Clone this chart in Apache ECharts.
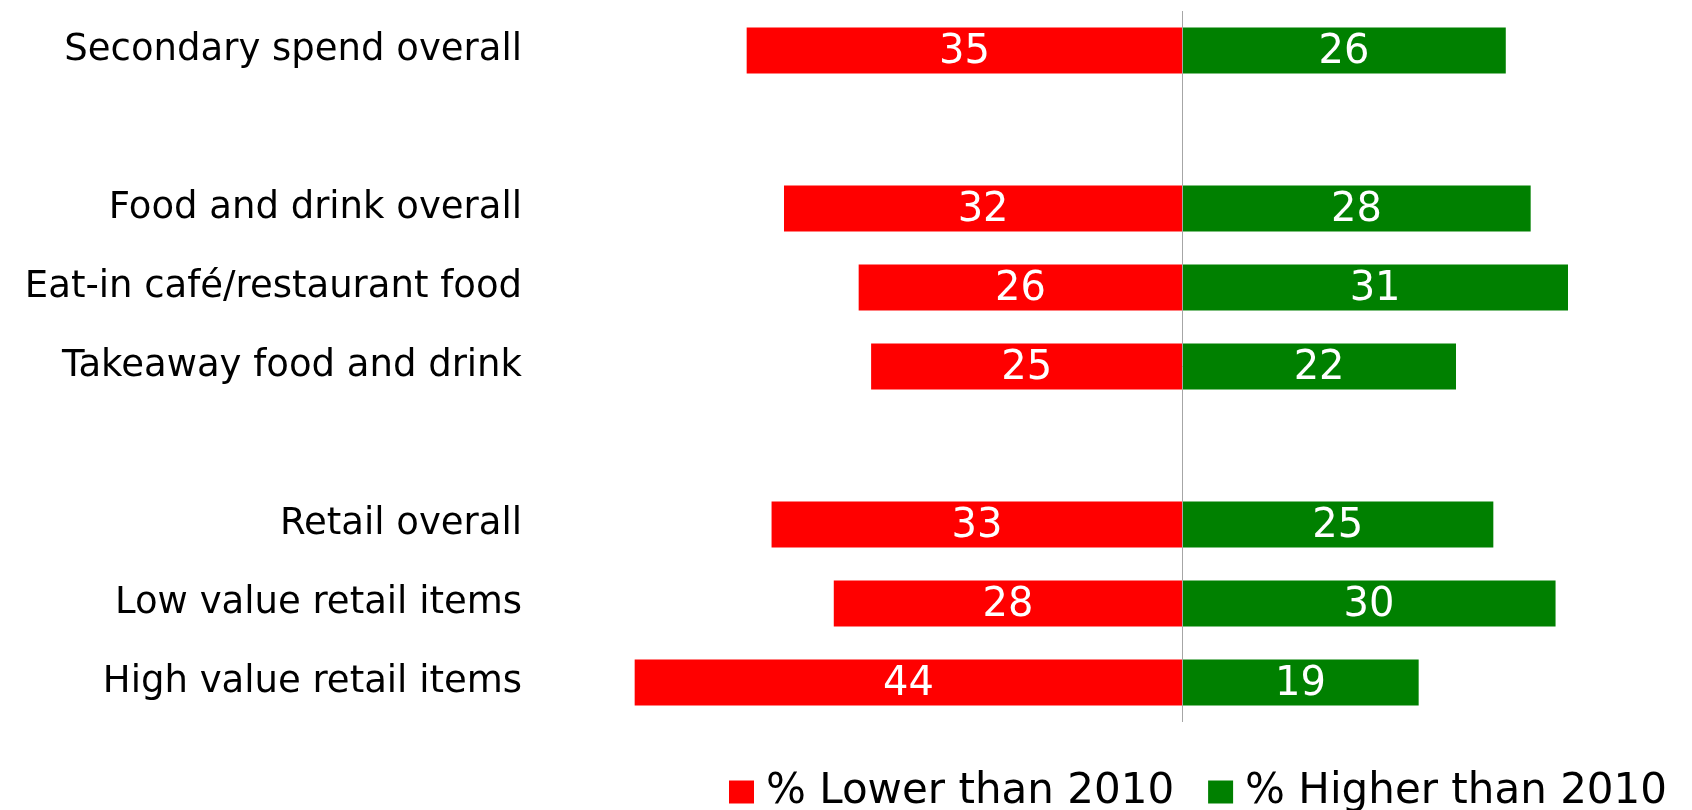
<!DOCTYPE html>
<html>
<head>
<meta charset="utf-8">
<style>
  html, body { margin: 0; padding: 0; background: #ffffff; }
  #chart { width: 1692px; height: 810px; }
</style>
<script src="https://cdn.jsdelivr.net/npm/echarts@6/dist/echarts.min.js"></script>
</head>
<body>
<div id="chart"></div>
<script>
// Spending groups; empty entries leave a gap between the sections
const categories = [
  'Secondary spend overall',
  '',
  'Food and drink overall',
  'Eat-in café/restaurant food',
  'Takeaway food and drink',
  '',
  'Retail overall',
  'Low value retail items',
  'High value retail items'
];
const lowerThan2010 = [35, null, 32, 26, 25, null, 33, 28, 44];
const higherThan2010 = [26, null, 28, 31, 22, null, 25, 30, 19];
const seriesNames = ['% Lower than 2010', '% Higher than 2010'];

const FONT = 'DejaVu Sans, Verdana, sans-serif';

const chart = echarts.init(document.getElementById('chart'), null, { renderer: 'canvas' });

const valueLabel = {
  show: true,
  position: 'inside',
  offset: [0, 2],
  color: '#ffffff',
  fontFamily: FONT,
  fontSize: 40,
  formatter: p => Math.abs(p.value)
};

chart.setOption({
  animation: false,
  backgroundColor: '#ffffff',
  grid: { left: 560, right: 12, top: 11, bottom: 88, containLabel: false },
  legend: {
    left: 724,
    top: 766,
    icon: 'rect',
    itemWidth: 25,
    itemHeight: 23,
    itemGap: 34,
    textStyle: { fontFamily: FONT, fontSize: 42, color: '#000000', padding: [0, 0, 0, 7] },
    data: seriesNames
  },
  xAxis: {
    type: 'value',
    min: -50,
    max: 40,
    show: false,
    splitLine: { show: false }
  },
  yAxis: {
    type: 'category',
    inverse: true,
    data: categories,
    axisLine: { show: false },
    axisTick: { show: false },
    splitLine: { show: false },
    axisLabel: {
      margin: 38,
      color: '#000000',
      fontFamily: FONT,
      fontSize: 37
    }
  },
  series: [
    {
      name: seriesNames[0],
      type: 'bar',
      stack: 'change',
      barWidth: 46,
      itemStyle: { color: '#ff0000' },
      label: valueLabel,
      data: lowerThan2010.map(v => (v == null ? null : -v)),
      markLine: {
        silent: true,
        symbol: 'none',
        label: { show: false },
        lineStyle: { color: '#a6a6a6', width: 1, type: 'solid' },
        data: [{ xAxis: 0 }]
      },
      z: 2
    },
    {
      name: seriesNames[1],
      type: 'bar',
      stack: 'change',
      barWidth: 46,
      itemStyle: { color: '#008000' },
      label: valueLabel,
      data: higherThan2010,
      z: 2
    }
  ]
});
</script>
</body>
</html>
